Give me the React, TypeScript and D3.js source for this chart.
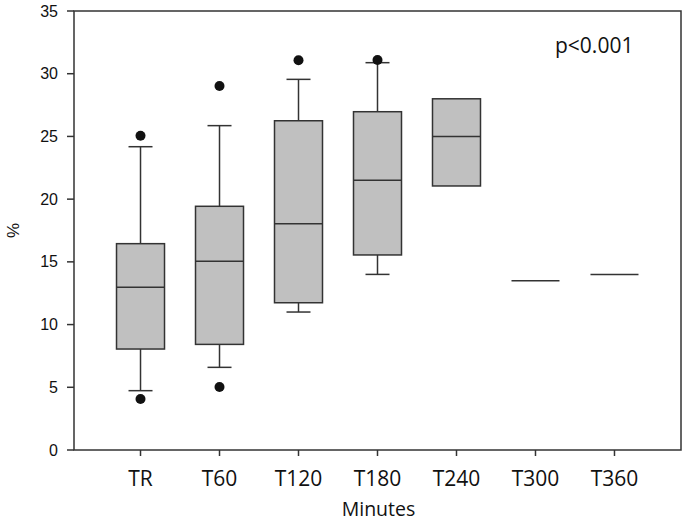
import React from "react";
import * as d3 from "d3";

const categories = ["TR", "T60", "T120", "T180", "T240", "T300", "T360"];
const q1 = [8.05, 8.42, 11.74, 15.55, 21.05, 13.5, 14.0];
const medians = [12.97, 15.04, 18.04, 21.5, 25.0, 13.5, 14.0];
const q3 = [16.45, 19.43, 26.25, 26.97, 28.0, 13.5, 14.0];
const whiskerLow: (number | null)[] = [4.73, 6.59, 11.0, 14.0, null, null, null];
const whiskerHigh: (number | null)[] = [24.18, 25.86, 29.55, 30.88, null, null, null];
const outliers: number[][] = [[4.07, 25.06], [5.02, 29.02], [31.07], [31.09], [], [], []];
const yTicks = [0, 5, 10, 15, 20, 25, 30, 35];

const W = 685;
const H = 521;
const left = 74;
const right = 681;
const top = 11;
const bottom = 450;
const stroke = "#333";

export default function App() {
  const x = d3.scalePoint<string>().domain(categories).range([left, right]).padding(0.842);
  const y = d3.scaleLinear().domain([0, 35]).range([bottom, top]);
  const bw = 48;
  const cap = 24;

  return (
    <svg width={W} height={H} style={{ position: "absolute", left: 0, top: 0, background: "#fff" }}>
      {/* frame */}
      <rect x={left} y={top} width={right - left} height={bottom - top} fill="none" stroke={stroke} strokeWidth={1.5} />
      {/* y ticks */}
      {yTicks.map((t) => (
        <g key={t}>
          <line x1={left - 7} x2={left} y1={y(t)} y2={y(t)} stroke={stroke} strokeWidth={1.5} />
          <text x={58} y={y(t)} dy="0.35em" textAnchor="end" fontFamily="Liberation Sans, Arial, sans-serif" fontSize={16} fill="#111">
            {t}
          </text>
        </g>
      ))}
      {/* x ticks */}
      {categories.map((c) => (
        <g key={c}>
          <line x1={x(c)!} x2={x(c)!} y1={bottom} y2={bottom + 6} stroke={stroke} strokeWidth={1.5} />
          <text x={x(c)!} y={486} textAnchor="middle" fontFamily="Open Sans, sans-serif" fontSize={21} fill="#111">
            {c}
          </text>
        </g>
      ))}
      {/* boxes */}
      {categories.map((c, i) => {
        const cx = x(c)!;
        const flat = q1[i] === q3[i];
        return (
          <g key={"b" + c}>
            {whiskerLow[i] !== null && (
              <>
                <line x1={cx} x2={cx} y1={y(q1[i])} y2={y(whiskerLow[i]!)} stroke={stroke} strokeWidth={1.5} />
                <line x1={cx - cap / 2} x2={cx + cap / 2} y1={y(whiskerLow[i]!)} y2={y(whiskerLow[i]!)} stroke={stroke} strokeWidth={1.5} />
              </>
            )}
            {whiskerHigh[i] !== null && (
              <>
                <line x1={cx} x2={cx} y1={y(q3[i])} y2={y(whiskerHigh[i]!)} stroke={stroke} strokeWidth={1.5} />
                <line x1={cx - cap / 2} x2={cx + cap / 2} y1={y(whiskerHigh[i]!)} y2={y(whiskerHigh[i]!)} stroke={stroke} strokeWidth={1.5} />
              </>
            )}
            {!flat && (
              <rect x={cx - bw / 2} y={y(q3[i])} width={bw} height={y(q1[i]) - y(q3[i])} fill="#c0c0c0" stroke={stroke} strokeWidth={1.5} />
            )}
            <line x1={cx - bw / 2} x2={cx + bw / 2} y1={y(medians[i])} y2={y(medians[i])} stroke={stroke} strokeWidth={1.5} />
            {outliers[i].map((o, j) => (
              <circle key={j} cx={cx} cy={y(o)} r={5} fill="#111" />
            ))}
          </g>
        );
      })}
      {/* annotation */}
      <text x={555} y={53} fontFamily="Open Sans, sans-serif" fontSize={21} fill="#111">p&lt;0.001</text>
      {/* axis titles */}
      <text x={(left + right) / 2 + 1} y={516} textAnchor="middle" fontFamily="Open Sans, sans-serif" fontSize={19.5} fill="#111">
        Minutes
      </text>
      <text transform={`translate(19, ${y(17.5)}) rotate(-90)`} textAnchor="middle" fontFamily="Liberation Sans, Arial, sans-serif" fontSize={17} fill="#111">
        %
      </text>
    </svg>
  );
}
